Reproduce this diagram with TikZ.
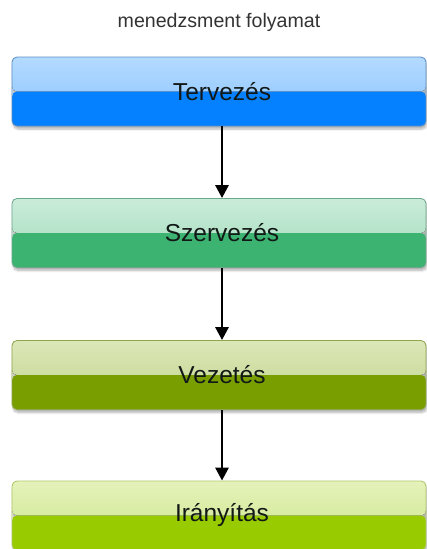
\documentclass[tikz,border=0pt]{standalone}
\usepackage{fontspec}
\setmainfont{Liberation Sans}
\usetikzlibrary{shadows.blur,arrows.meta}

% colour pairs for each stage: light upper gradient and solid lower half
\definecolor{blueTop}{HTML}{B4DAFF}
\definecolor{blueMid}{HTML}{88C3FF}
\definecolor{blueLow}{HTML}{0580FF}
\definecolor{blueLine}{HTML}{5C8FC4}
\definecolor{seaTop}{HTML}{CAECDA}
\definecolor{seaMid}{HTML}{A0DAB9}
\definecolor{seaLow}{HTML}{3CB371}
\definecolor{seaLine}{HTML}{6BA88A}
\definecolor{oliveTop}{HTML}{DCE7B8}
\definecolor{oliveMid}{HTML}{C0D48A}
\definecolor{oliveLow}{HTML}{789E00}
\definecolor{oliveLine}{HTML}{8FA64D}
\definecolor{limeTop}{HTML}{E4F2BA}
\definecolor{limeMid}{HTML}{CCE689}
\definecolor{limeLow}{HTML}{99CC00}
\definecolor{limeLine}{HTML}{AFC86A}
\definecolor{titleGrey}{HTML}{333333}
\definecolor{labelInk}{HTML}{121816}

\tikzset{
  stagebox/.style n args={4}{
    rectangle, rounded corners=5pt,
    minimum width=414pt, minimum height=69pt,
    draw=#4, line width=0.8pt,
    blur shadow={shadow xshift=1pt, shadow yshift=-3pt,
                 shadow blur steps=6, shadow opacity=30},
    path picture={
      \fill[top color=#1, bottom color=#2]
        (path picture bounding box.north west) rectangle
        (path picture bounding box.east);
      \fill[#3]
        (path picture bounding box.west) rectangle
        (path picture bounding box.south east);
    }
  },
  stagelabel/.style={font=\fontsize{24.5}{28}\selectfont, text=labelInk},
  flow/.style={line width=2.8pt, draw=black,
               -{Triangle[length=13pt, width=13pt]}}
}

\begin{document}
\begin{tikzpicture}[x=1pt,y=1pt]
  \useasboundingbox (0,0) rectangle (427,-549);

  \node[font=\fontsize{19.6}{23}\selectfont, text=titleGrey] (title) at (219,-22)
    {menedzsment folyamat};

  \node[stagebox={blueTop}{blueMid}{blueLow}{blueLine}]   (terv) at (219,-91.5) {};
  \node[stagebox={seaTop}{seaMid}{seaLow}{seaLine}]       (szerv) at (219,-233) {};
  \node[stagebox={oliveTop}{oliveMid}{oliveLow}{oliveLine}] (vez) at (219,-375) {};
  \node[stagebox={limeTop}{limeMid}{limeLow}{limeLine}]   (iray) at (219,-515.5) {};

  \node[stagelabel] (tervL)  at ([xshift=3pt]terv.center)  {Tervezés};
  \node[stagelabel] (szervL) at ([xshift=3pt]szerv.center) {Szervezés};
  \node[stagelabel] (vezL)   at ([xshift=3pt]vez.center)   {Vezetés};
  \node[stagelabel] (irayL)  at ([xshift=3pt]iray.center)  {Irányítás};

  \draw[flow] ([xshift=3pt]terv.south)  -- ([xshift=3pt]szerv.north);
  \draw[flow] ([xshift=3pt]szerv.south) -- ([xshift=3pt]vez.north);
  \draw[flow] ([xshift=3pt]vez.south)   -- ([xshift=3pt]iray.north);
\end{tikzpicture}
\end{document}
